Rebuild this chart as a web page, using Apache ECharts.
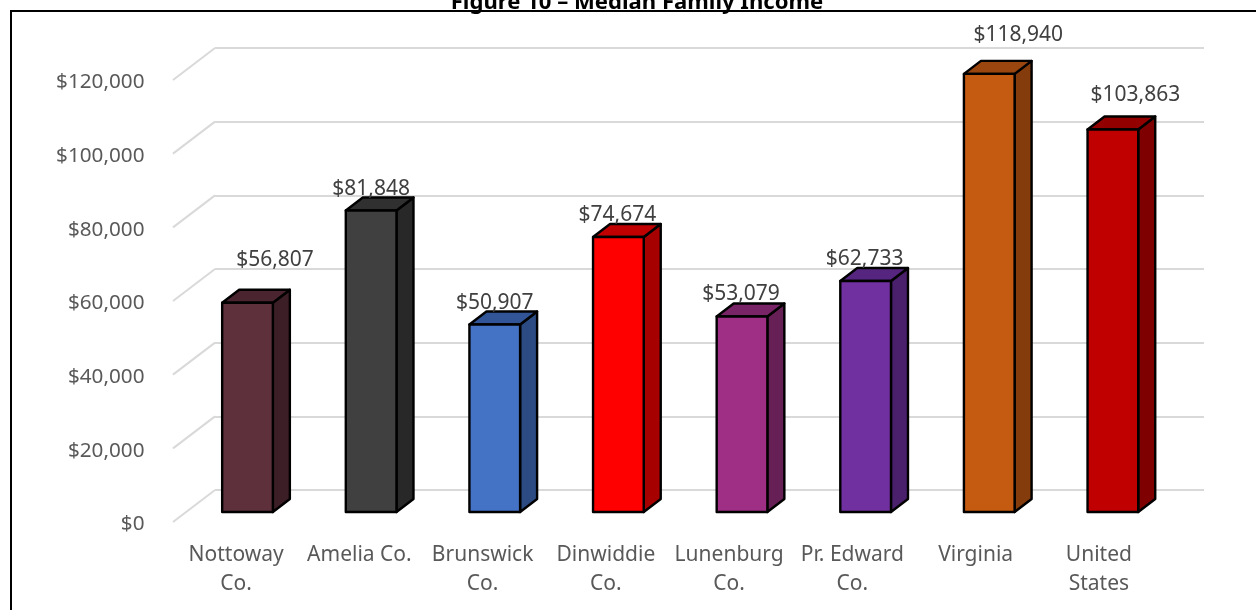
<!DOCTYPE html>
<html>
<head>
<meta charset="utf-8">
<style>html,body{margin:0;padding:0;background:#fff}#c{width:1256px;height:610px}</style>
<script src="https://cdn.jsdelivr.net/npm/echarts@6/dist/echarts.min.js"></script>
</head>
<body>
<div id="c"></div>
<script>
const categories = ['Nottoway\nCo.', 'Amelia Co.', 'Brunswick\nCo.', 'Dinwiddie\nCo.', 'Lunenburg\nCo.', 'Pr. Edward\nCo.', 'Virginia', 'United\nStates'];
const medianIncome = [56807, 81848, 50907, 74674, 53079, 62733, 118940, 103863];
const axisTicks = [0, 20000, 40000, 60000, 80000, 100000, 120000];
const titleText = 'Figure 10 – Median Family Income';

const style = {
  front: ['#5E303C', '#404040', '#4472C4', '#FF0000', '#9E2F85', '#7030A0', '#C55A11', '#C00000'],
  side:  ['#3C1E26', '#282828', '#2B4B82', '#A60000', '#672056', '#4A1F6B', '#843C0C', '#7E0000'],
  top:   ['#4A2530', '#303030', '#315596', '#C00000', '#7A2468', '#552580', '#9A460E', '#920000'],
  labelDx: [27.5, 0, 0, -1, -1, -1, 29, 22.5],
  labelDy: [-43, -21.5, -21.5, -22, -22, -22, -39, -34.5],
  depthX: 17, depthY: -13, wallX: 42, wallY: -32, barRatio: 0.41,
  frontLift: 2.5,
  font: '"Noto Sans", "Open Sans", sans-serif'
};
const fmt = v => '$' + v.toLocaleString('en-US');
const maxV = axisTicks[axisTicks.length - 1];
const step = axisTicks[1];

const chart = echarts.init(document.getElementById('c'), null, {renderer: 'canvas'});
chart.setOption({
  animation: false,
  backgroundColor: '#fff',
  title: {
    text: titleText, left: 632, textAlign: 'center', top: -13,
    textStyle: {fontFamily: style.font, fontWeight: 'bold', fontSize: 22.1, color: '#000'}
  },
  graphic: [{
    type: 'rect', z: 100, silent: true,
    shape: {x: 11, y: 11, width: 1400, height: 800},
    style: {fill: null, stroke: '#000', lineWidth: 2}
  }],
  grid: [
    {left: 215, width: 989, top: 48, height: 442},   // back wall
    {left: 174.5, width: 986, top: 80 + style.frontLift, height: 442}, // front edge: axis labels
    {left: 185.7, width: 989, top: 70, height: 442}  // bars
  ],
  xAxis: [
    {gridIndex: 0, type: 'category', data: categories, show: false},
    {gridIndex: 1, type: 'category', data: categories,
     axisLine: {show: false}, axisTick: {show: false},
     axisLabel: {interval: 0, margin: 19 - style.frontLift, lineHeight: 29, fontSize: 21, color: '#595959', fontFamily: style.font}},
    {gridIndex: 2, type: 'category', data: categories, show: false}
  ],
  yAxis: [
    {gridIndex: 0, type: 'value', min: 0, max: maxV, interval: step,
     axisLine: {show: false}, axisTick: {show: false}, axisLabel: {show: false},
     splitLine: {show: true, lineStyle: {color: '#D9D9D9', width: 2}}},
    {gridIndex: 1, type: 'value', min: 0, max: maxV, interval: step,
     axisLine: {show: false}, axisTick: {show: false}, splitLine: {show: false},
     axisLabel: {margin: 30, fontSize: 20.7, color: '#595959', fontFamily: style.font, formatter: fmt}},
    {gridIndex: 2, type: 'value', min: 0, max: maxV, interval: step, show: false}
  ],
  series: [
    { // diagonal lines from the front edge to the back wall
      type: 'custom', xAxisIndex: 1, yAxisIndex: 1, z: 1, silent: true,
      data: axisTicks,
      encode: {y: 0},
      renderItem(params, api) {
        const y = api.coord([0, api.value(0)])[1] - style.frontLift;
        const x = params.coordSys.x;
        return {type: 'line',
          shape: {x1: x - 1.5, y1: y, x2: x - 1.5 + style.wallX, y2: y + style.wallY},
          style: {stroke: '#D9D9D9', lineWidth: 2, fill: null}};
      }
    },
    { // 3D bars
      type: 'custom', xAxisIndex: 2, yAxisIndex: 2, z: 5, silent: true,
      data: medianIncome.map((v, i) => [i, v]),
      encode: {x: 0, y: 1},
      renderItem(params, api) {
        const i = api.value(0), v = api.value(1);
        const top = api.coord([i, v]), base = api.coord([i, 0]);
        const w = api.size([1, 0])[0] * style.barRatio;
        const xl = top[0] - w / 2, xr = top[0] + w / 2;
        const dx = style.depthX, dy = style.depthY;
        const edge = {stroke: '#000', lineWidth: 2.4, lineJoin: 'round'};
        return {type: 'group', children: [
          {type: 'polygon', shape: {points: [[xr, top[1]], [xr + dx, top[1] + dy], [xr + dx, base[1] + dy], [xr, base[1]]]},
           style: Object.assign({fill: style.side[i]}, edge)},
          {type: 'polygon', shape: {points: [[xl, top[1]], [xl + dx, top[1] + dy], [xr + dx, top[1] + dy], [xr, top[1]]]},
           style: Object.assign({fill: style.top[i]}, edge)},
          {type: 'rect', shape: {x: xl, y: top[1], width: w, height: base[1] - top[1]},
           style: Object.assign({fill: style.front[i]}, edge)},
          {type: 'text', z2: 50,
           style: {x: top[0] + style.labelDx[i], y: top[1] + style.labelDy[i], text: fmt(v),
                   align: 'center', verticalAlign: 'middle', fontSize: 21, fontFamily: style.font, fill: '#404040'}}
        ]};
      }
    }
  ]
});
</script>
</body>
</html>
